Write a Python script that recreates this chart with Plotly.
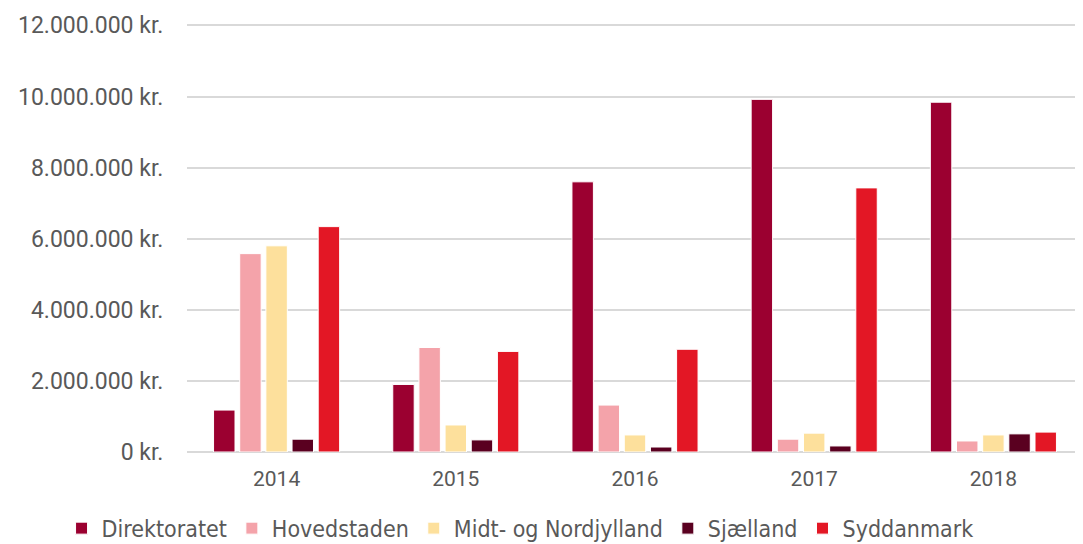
import plotly.graph_objects as go

years = ["2014", "2015", "2016", "2017", "2018"]
direktoratet = [1180000, 1900000, 7600000, 9920000, 9840000]
hovedstaden = [5580000, 2940000, 1320000, 360000, 310000]
midt_nord = [5800000, 760000, 480000, 530000, 480000]
sjaelland = [360000, 340000, 140000, 170000, 510000]
syddanmark = [6340000, 2830000, 2890000, 7430000, 560000]

series = [
    ("Direktoratet", direktoratet, "#9B0030"),
    ("Hovedstaden", hovedstaden, "#F4A3AA"),
    ("Midt- og Nordjylland", midt_nord, "#FDE09C"),
    ("Sjælland", sjaelland, "#5A0020"),
    ("Syddanmark", syddanmark, "#E31725"),
]

fig = go.Figure()
for name, vals, col in series:
    fig.add_trace(go.Bar(
        x=years, y=vals, name=name,
        marker=dict(color=col, line=dict(color="white", width=1)),
    ))

fig.update_layout(
    width=1083, height=570,
    margin=dict(l=179, r=8, t=16, b=126),
    paper_bgcolor="white", plot_bgcolor="white",
    barmode="group", bargap=0.27, bargroupgap=0.18,
    separators=",.",
    font=dict(family="Roboto", size=21, color="#595959"),
    yaxis=dict(
        range=[0, 12040000], tick0=0, dtick=2000000,
        tickformat=",.0f", ticksuffix=" kr.", showticksuffix="all",
        showgrid=True, gridcolor="#d9d9d9", gridwidth=1.5,
        zeroline=True, zerolinecolor="#d9d9d9", zerolinewidth=2,
        ticks="outside", ticklen=18, tickcolor="white", automargin=False,
        tickfont=dict(family="Roboto", size=23, color="#595959"),
    ),
    xaxis=dict(
        showgrid=False, ticks="outside", ticklen=8, tickcolor="white", showline=False,
        tickfont=dict(family="Roboto", size=21, color="#595959"),
        automargin=False,
    ),
    legend=dict(
        orientation="h", x=-0.14, xanchor="left",
        y=-0.178, yanchor="middle",
        font=dict(family="DejaVu Sans Condensed, DejaVu Sans", size=23, color="#595959"),
        itemwidth=30, traceorder="normal",
    ),
)

fig.write_html("out.html")
